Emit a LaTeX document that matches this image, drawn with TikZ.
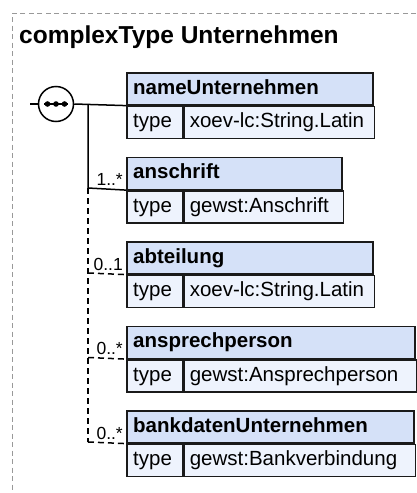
\documentclass[tikz,border=0pt]{standalone}
\usepackage{fontspec}
\setmainfont{Liberation Sans}
\newfontfamily\boxfont{Liberation Sans}
\newfontfamily\titlefont{Liberation Sans}
\newfontfamily\multfont{Liberation Sans}
\definecolor{hdrblue}{HTML}{D5E1F8}
\definecolor{rowblue}{HTML}{EEF3FD}
\definecolor{boxline}{HTML}{1A1A1A}
\definecolor{framegray}{HTML}{999999}
\newcommand\xsdbox[5]{%
  \node[hdr, minimum width=#3pt] (#1h) at (126,#2) {};
  \node[hdrtxt] (#1t) at ([xshift=7pt,yshift=-22pt]#1h.north west) {#4};
  \node[cell, minimum width=56pt] (#1k) at (#1h.south west) {};
  \node[celltxt] (#1kt) at ([xshift=7pt,yshift=-22pt]#1k.north west) {type};
  \node[cell, minimum width={#3pt-56pt}] (#1v) at (#1k.north east) {};
  \node[celltxt] (#1vt) at ([xshift=6pt,yshift=-22pt]#1v.north west) {#5};
}
\begin{document}
\begin{tikzpicture}[x=1pt,y=-1pt,
  hdr/.style={draw=boxline, line width=1.6pt, fill=hdrblue, anchor=north west, minimum height=32pt, inner sep=0pt},
  cell/.style={draw=boxline, line width=1.6pt, fill=rowblue, anchor=north west, minimum height=32pt, inner sep=0pt},
  hdrtxt/.style={anchor=base west, inner sep=0pt, font={\boxfont\fontsize{20.5}{22}\selectfont\bfseries}},
  celltxt/.style={anchor=base west, inner sep=0pt, font={\boxfont\fontsize{20.5}{22}\selectfont}},
  mult/.style={anchor=base east, inner sep=0pt, font={\multfont\fontsize{17.5}{19}\selectfont}},
  conn/.style={line width=1.5pt},
  optconn/.style={line width=1.5pt, dash pattern=on 6pt off 4pt},
]
\useasboundingbox (0,0) rectangle (416,493);
\draw[framegray, line width=1pt, dash pattern=on 5pt off 3.5pt] (416,13) -- (12,13) -- (12,493);
\node[anchor=base west, inner sep=0pt, font={\titlefont\fontsize{24.5}{26}\selectfont\bfseries}] (title) at (19,43.5) {complexType Unternehmen};

\xsdbox{a}{72}{246}{nameUnternehmen}{xoev-lc:String.Latin}
\xsdbox{b}{156.5}{215}{anschrift}{gewst:Anschrift}
\xsdbox{c}{241}{246}{abteilung}{xoev-lc:String.Latin}
\xsdbox{d}{325.5}{288}{ansprechperson}{gewst:Ansprechperson}
\xsdbox{e}{410}{287}{bankdatenUnternehmen}{gewst:Bankverbindung}

\node[draw, circle, line width=1.5pt, minimum size=35pt, inner sep=0pt, fill=white] (seq) at (56,104) {};
\draw[line width=1.5pt] ([xshift=-12pt]seq.center) -- ([xshift=12pt]seq.center);
\fill ([xshift=-8.5pt]seq.center) circle (2.8pt);
\fill (seq.center) circle (2.8pt);
\fill ([xshift=8.5pt]seq.center) circle (2.8pt);

\coordinate (stub) at (30,104);
\coordinate (j1) at (88,104);
\coordinate (j2) at (88,188);
\coordinate (j3) at (88,273);
\coordinate (j4) at (88,357.5);
\coordinate (j5) at (88,442);

\draw[conn] (stub) -- (seq.west);
\draw[conn] (seq.east) -- (ah.south west);
\draw[conn] (j1) -- (j2) -- (bh.south west);
\draw[optconn] (j2) -- (j5);
\draw[optconn] (j3) -- (ch.south west);
\draw[optconn] (j4) -- (dh.south west);
\draw[optconn] (j5) -- (eh.south west);

\node[mult] (mb) at (123,185) {1..*};
\node[mult] (mc) at (123,270) {0..1};
\node[mult] (md) at (123,354.5) {0..*};
\node[mult] (me) at (123,439) {0..*};
\end{tikzpicture}
\end{document}
